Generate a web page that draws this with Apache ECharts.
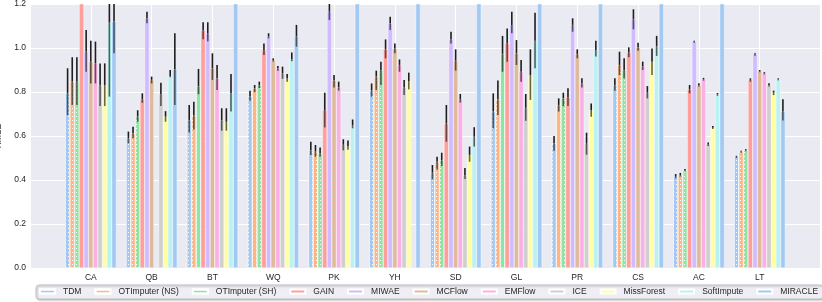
<!DOCTYPE html>
<html>
<head>
<meta charset="utf-8">
<script src="https://cdn.jsdelivr.net/npm/echarts@6/dist/echarts.min.js"></script>
<style>
html,body{margin:0;padding:0;background:#fff;}
#chart{width:822px;height:302px;}
</style>
</head>
<body>
<div id="chart"></div>
<script>
const categories = ['CA','QB','BT','WQ','PK','YH','SD','GL','PR','CS','AC','LT'];
const seriesNames = ['TDM','OTImputer (NS)','OTImputer (SH)','GAIN','MIWAE','MCFlow','EMFlow','ICE','MissForest','SoftImpute','MIRACLE'];
const colors = ['#a1c9f4','#ffb482','#8de5a1','#ff9f9b','#d0bbff','#debb9b','#fab0e4','#cfcfcf','#fffea3','#b9f2f0','#a1c9f4'];
const hatched = [true,true,true,false,false,false,false,false,false,false,false];
const yTicks = [0,0.2,0.4,0.6,0.8,1.0,1.2];

// mean RMSE per dataset (values above 1.2 run off the top of the plot)
const tdm      = [0.795,0.590,0.673,0.779,0.536,0.806,0.433,0.711,0.567,0.832,0.415,0.506];
const tdmLo    = [0.695,0.567,0.615,0.760,0.514,0.779,0.403,0.635,0.533,0.806,0.408,0.500];
const tdmHi    = [0.908,0.620,0.741,0.806,0.574,0.839,0.468,0.794,0.600,0.862,0.427,0.510];

const otiNs    = [0.847,0.612,0.693,0.817,0.529,0.870,0.483,0.767,0.741,0.923,0.423,0.529];
const otiNsLo  = [0.741,0.590,0.630,0.800,0.506,0.809,0.448,0.695,0.711,0.877,0.415,0.524];
const otiNsHi  = [0.958,0.642,0.756,0.832,0.559,0.897,0.506,0.852,0.771,0.983,0.432,0.533];

const otiSh    = [0.847,0.688,0.827,0.832,0.521,0.900,0.491,0.973,0.771,0.900,0.445,0.536];
const otiShLo  = [0.741,0.665,0.790,0.818,0.506,0.832,0.464,0.892,0.736,0.862,0.440,0.531];
const otiShHi  = [0.958,0.717,0.905,0.847,0.548,0.938,0.524,1.055,0.797,0.953,0.450,0.540];

const gain     = [1.300,0.768,1.080,0.991,0.718,0.994,0.656,1.021,0.776,0.979,0.812,0.855];
const gainLo   = [null, 0.751,1.040,0.968,0.639,0.953,0.574,0.938,0.736,0.958,0.794,0.847];
const gainHi   = [null, 0.794,1.117,1.021,0.797,1.039,0.741,1.089,0.817,1.003,0.832,0.862];

const miwae    = [0.983,1.135,1.065,1.052,1.165,1.112,1.039,1.105,1.105,1.130,1.029,0.971];
const miwaeLo  = [0.892,1.112,1.030,1.044,1.127,1.082,1.021,1.067,1.074,1.085,1.024,0.965];
const miwaeHi  = [1.082,1.165,1.117,1.067,1.210,1.142,1.074,1.165,1.135,1.176,1.033,0.976];

const mcflow   = [0.938,0.855,0.908,0.945,0.852,0.998,0.942,0.976,0.973,1.003,0.832,0.895];
const mcflowLo = [0.839,0.839,0.855,0.938,0.821,0.976,0.897,0.923,0.953,0.988,0.825,0.890];
const mcflowHi = [1.033,0.870,0.976,0.953,0.877,1.021,0.994,1.036,0.994,1.024,0.840,0.900];

const emflow   = [0.930,null, 0.862,0.908,0.821,0.923,0.768,0.892,0.839,0.918,0.858,0.885];
const emflowLo = [0.839,null, 0.809,0.897,0.806,0.892,0.752,0.847,0.821,0.900,0.852,0.880];
const emflowHi = [1.029,null, 0.923,0.918,0.847,0.948,0.791,0.945,0.862,0.938,0.864,0.890];

const ice      = [0.832,0.791,0.672,0.885,0.560,0.821,0.420,0.728,0.565,0.797,0.564,0.832];
const iceLo    = [0.736,0.736,0.624,0.860,0.535,0.786,0.405,0.669,0.515,0.771,0.555,0.825];
const iceHi    = [0.930,0.842,0.726,0.915,0.585,0.855,0.455,0.791,0.615,0.827,0.570,0.840];

const missForest   = [0.832,0.688,0.665,0.862,0.555,0.850,0.514,0.877,0.718,0.938,0.638,0.797];
const missForestLo = [0.736,0.665,0.624,0.847,0.537,0.812,0.483,0.764,0.688,0.877,0.632,0.786];
const missForestHi = [0.930,0.713,0.726,0.882,0.580,0.888,0.552,0.994,0.748,0.998,0.645,0.806];

const softImpute   = [1.115,0.873,0.794,0.948,0.650,null, 0.597,1.033,0.991,1.009,0.789,0.858];
const softImputeLo = [0.779,0.867,0.711,0.940,0.635,null, 0.552,0.908,0.961,0.964,0.783,0.853];
const softImputeHi = [1.220,0.900,0.882,0.979,0.675,null, 0.640,1.160,1.033,1.055,0.795,0.862];

const miracle   = [1.120,0.903,1.300,1.052,1.300,1.300,1.300,1.300,1.300,1.300,1.300,0.711];
const miracleLo = [0.976,0.741,null, 1.006,null, null, null, null, null, null, null, 0.670];
const miracleHi = [1.200,1.067,null, 1.105,null, null, null, null, null, null, null, 0.767];

const means = [tdm,otiNs,otiSh,gain,miwae,mcflow,emflow,ice,missForest,softImpute,miracle];
const lows  = [tdmLo,otiNsLo,otiShLo,gainLo,miwaeLo,mcflowLo,emflowLo,iceLo,missForestLo,softImputeLo,miracleLo];
const highs = [tdmHi,otiNsHi,otiShHi,gainHi,miwaeHi,mcflowHi,emflowHi,iceHi,missForestHi,softImputeHi,miracleHi];

// padded axis: one empty slot at each side
const axisCats = [' '].concat(categories).concat(['  ']);
const FONT = 'Liberation Sans, Arial, sans-serif';
const GROUP_FRAC = 0.84;
const N = seriesNames.length;

const decal = {
  symbol: 'rect',
  symbolSize: 1,
  dashArrayX: [1, 3],
  dashArrayY: [1, 3],
  color: 'rgba(255,255,255,0.95)'
};

const series = seriesNames.map((name, s) => ({
  name: name,
  type: 'bar',
  clip: true,
  barGap: '0%',
  barCategoryGap: ((1 - GROUP_FRAC) * 100) + '%',
  data: [null].concat(means[s]).concat([null]),
  itemStyle: Object.assign({
    color: colors[s],
    borderColor: '#ffffff',
    borderWidth: 0.4
  }, hatched[s] ? { decal: decal } : {}),
  emphasis: { disabled: true },
  z: 2
}));

const errData = [];
for (let s = 0; s < N; s++) {
  for (let c = 0; c < categories.length; c++) {
    if (means[s][c] != null && lows[s][c] != null && highs[s][c] != null) {
      errData.push([c + 1, s, lows[s][c], means[s][c], highs[s][c]]);
    }
  }
}

series.push({
  type: 'custom',
  name: 'err',
  clip: true,
  z: 5,
  silent: true,
  encode: { x: 0, y: 3 },
  data: errData,
  renderItem: function (params, api) {
    const c = api.value(0), s = api.value(1);
    const lo = api.value(2), m = api.value(3), hi = api.value(4);
    const band = api.size([1, 0])[0];
    const bw = band * GROUP_FRAC / N;
    const cx = api.coord([c, 0])[0] + (s - (N - 1) / 2) * bw;
    const yLo = api.coord([c, lo])[1];
    const yM = api.coord([c, m])[1];
    const yHi = api.coord([c, hi])[1];
    return {
      type: 'group',
      children: [
        { type: 'line', shape: { x1: cx, y1: yHi, x2: cx, y2: yM },
          style: { stroke: '#1e1e1e', lineWidth: 1.6 } },
        { type: 'line', shape: { x1: cx, y1: yM, x2: cx, y2: yLo },
          style: { stroke: 'rgba(30,30,30,0.68)', lineWidth: 1.6 } }
      ]
    };
  }
});

const chart = echarts.init(document.getElementById('chart'), null, { renderer: 'canvas' });
chart.setOption({
  animation: false,
  backgroundColor: '#ffffff',
  textStyle: { fontFamily: FONT },
  grid: {
    left: 30, right: 1.5, top: 4, bottom: 34,
    containLabel: false,
    outerBoundsMode: 'none',
    show: true, backgroundColor: '#eaeaf2', borderWidth: 0
  },
  xAxis: {
    type: 'category',
    data: axisCats,
    boundaryGap: false,
    axisLine: { show: false },
    axisTick: { show: false },
    axisLabel: { interval: 0, margin: 5, fontSize: 8.5, color: '#262626', fontFamily: FONT },
    splitLine: { show: true, interval: 0, lineStyle: { color: '#ffffff', width: 1 } }
  },
  yAxis: {
    type: 'value',
    min: yTicks[0],
    max: yTicks[yTicks.length - 1],
    interval: 0.2,
    name: 'RMSE',
    nameLocation: 'middle',
    nameGap: 14,
    nameTextStyle: { fontSize: 8.5, color: '#262626', fontFamily: FONT },
    axisLine: { show: false },
    axisTick: { show: false },
    axisLabel: { margin: 4, fontSize: 8.5, color: '#262626', fontFamily: FONT,
      formatter: v => v.toFixed(1) },
    splitLine: { show: true, lineStyle: { color: '#ffffff', width: 1 } }
  },
  legend: {
    data: seriesNames,
    selectedMode: false,
    left: 36,
    top: 285,
    width: 800,
    orient: 'horizontal',
    icon: 'rect',
    itemWidth: 15,
    itemHeight: 4,
    itemGap: 13,
    padding: [2, 5, 3, 3],
    backgroundColor: '#eeeef4',
    borderColor: '#c4c4c8',
    borderWidth: 1,
    borderRadius: 3,
    shadowColor: 'rgba(0,0,0,0.25)',
    shadowBlur: 2,
    shadowOffsetX: 1,
    shadowOffsetY: 1,
    textStyle: { fontSize: 8.5, color: '#262626', fontFamily: FONT, padding: [0, 0, 0, 3] }
  },
  series: series
});
</script>
</body>
</html>
